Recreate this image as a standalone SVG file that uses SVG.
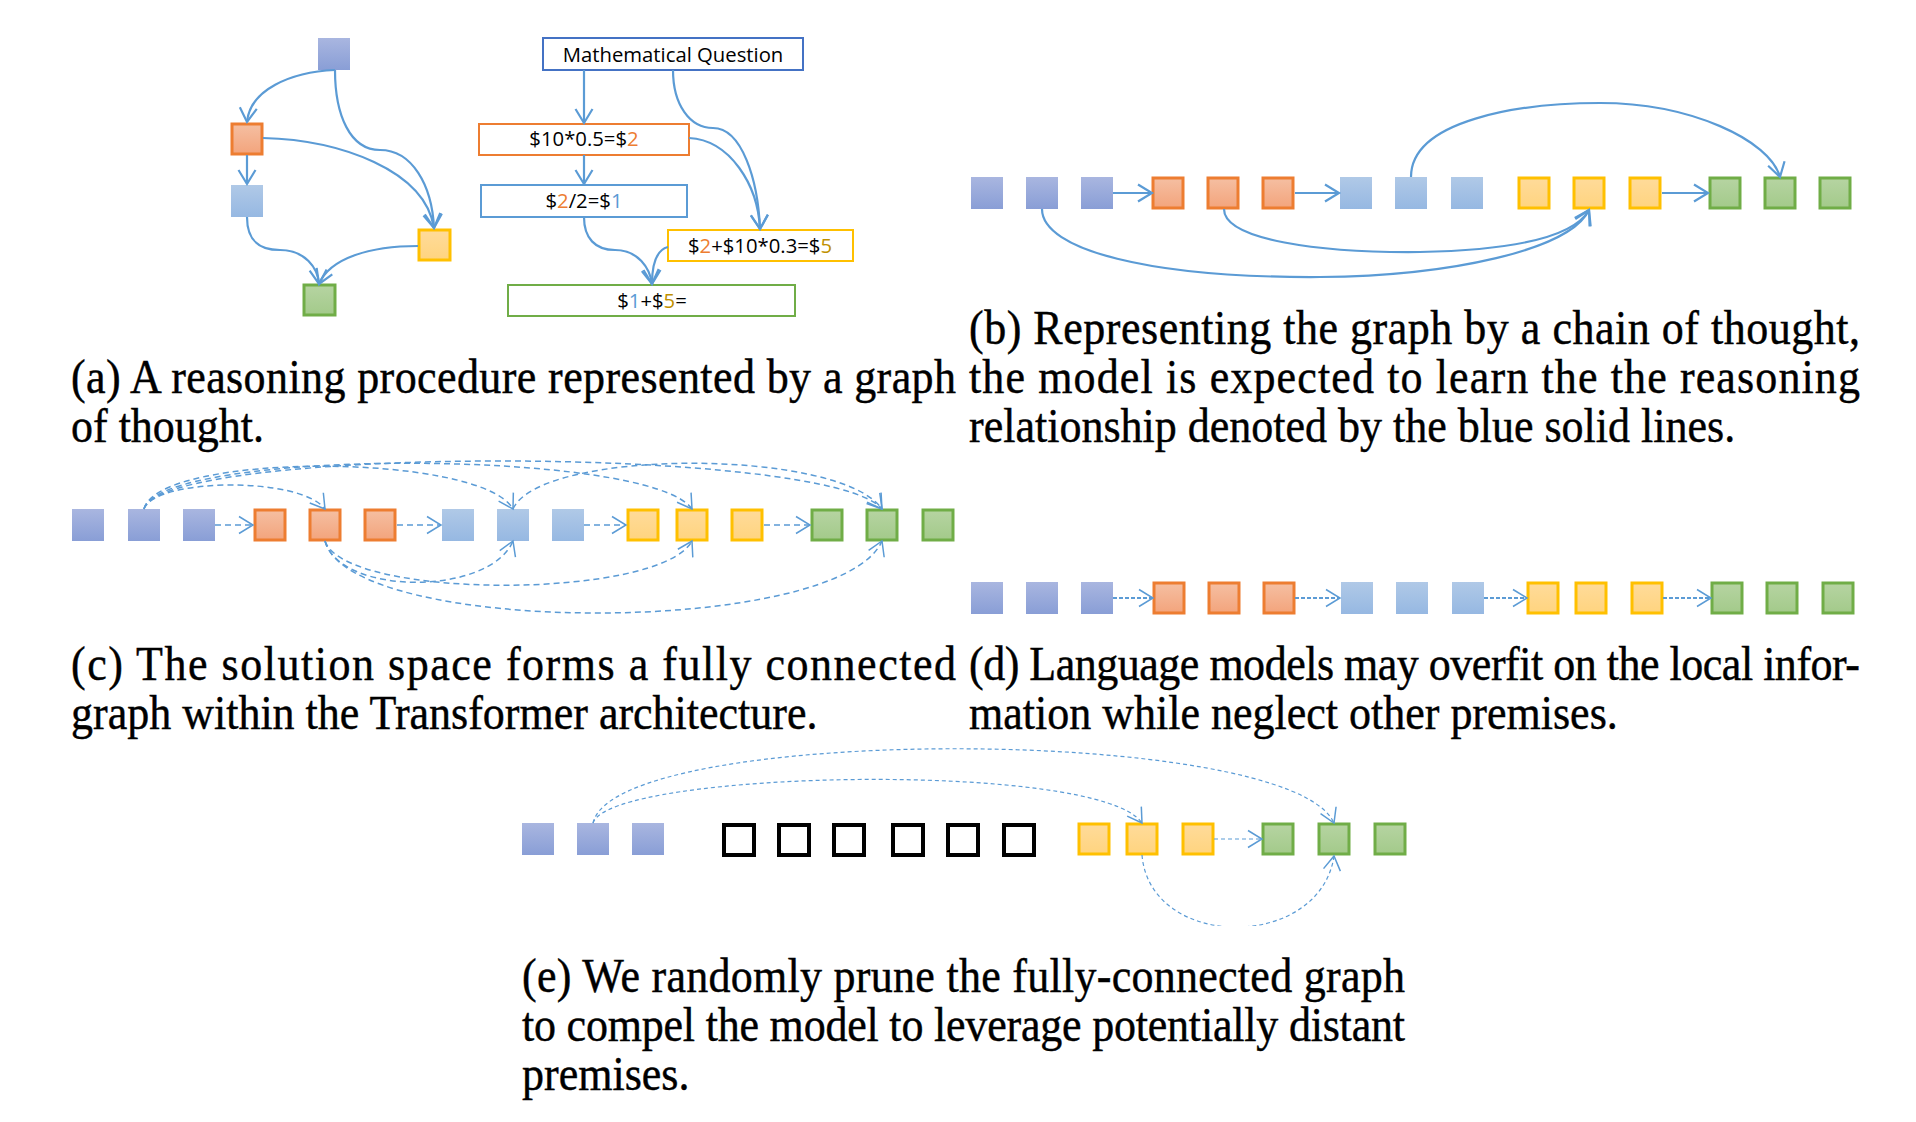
<svg xmlns="http://www.w3.org/2000/svg" width="1916" height="1122" viewBox="0 0 1916 1122">
<style>
.sb{fill:url(#gB)}
.so{fill:url(#gO);stroke:#ED7D31;stroke-width:3}
.sl{fill:url(#gL)}
.sy{fill:url(#gY);stroke:#FFC000;stroke-width:3}
.sg{fill:url(#gG);stroke:#70AD47;stroke-width:3}
.sk{fill:#fff;stroke:#000;stroke-width:4}
.box{fill:#fff;stroke-width:2}
.bt{font-family:"Open Sans","Liberation Sans",sans-serif;font-size:20.3px;fill:#000;text-anchor:middle}
.cap{font-family:"Liberation Serif","Times New Roman",serif;font-size:44px;fill:#000;stroke:#000;stroke-width:0.4}
.solid{fill:none;stroke:#5B9BD5;stroke-width:2.2;marker-end:url(#ah)}
.dc{fill:none;stroke:#5B9BD5;stroke-width:1.5;stroke-dasharray:6 4;marker-end:url(#ahT)}
.dd{fill:none;stroke:#5B9BD5;stroke-width:2;stroke-dasharray:4 2;marker-end:url(#ahT)}
.de{fill:none;stroke:#5B9BD5;stroke-width:1.2;stroke-dasharray:4 3;marker-end:url(#ahT)}
.co{fill:#ED7D31}.cb{fill:#5B9BD5}.cy{fill:#BF9000}
</style>
<defs>
<linearGradient id="gB" x1="0" y1="0" x2="0" y2="1"><stop offset="0" stop-color="#A9B6E0"/><stop offset="1" stop-color="#899ED6"/></linearGradient>
<linearGradient id="gO" x1="0" y1="0" x2="0" y2="1"><stop offset="0" stop-color="#F5BFA2"/><stop offset="1" stop-color="#F3A47C"/></linearGradient>
<linearGradient id="gL" x1="0" y1="0" x2="0" y2="1"><stop offset="0" stop-color="#B0C9E7"/><stop offset="1" stop-color="#96B8E2"/></linearGradient>
<linearGradient id="gY" x1="0" y1="0" x2="0" y2="1"><stop offset="0" stop-color="#FFDB9A"/><stop offset="1" stop-color="#FFD47F"/></linearGradient>
<linearGradient id="gG" x1="0" y1="0" x2="0" y2="1"><stop offset="0" stop-color="#B6D4A2"/><stop offset="1" stop-color="#A3CA8A"/></linearGradient>
<marker id="ah" markerUnits="userSpaceOnUse" markerWidth="20" markerHeight="20" viewBox="-16 -10 18 20" refX="0" refY="0" orient="auto" overflow="visible"><path d="M-14,-8.5 L0,0 L-14,8.5" fill="none" stroke="#5B9BD5" stroke-width="2.2"/></marker>
<marker id="ahT" markerUnits="userSpaceOnUse" markerWidth="20" markerHeight="20" viewBox="-16 -10 18 20" refX="0" refY="0" orient="auto" overflow="visible"><path d="M-14,-8.5 L0,0 L-14,8.5" fill="none" stroke="#5B9BD5" stroke-width="1.5"/></marker>
<clipPath id="clipE"><rect x="0" y="0" width="1916" height="926"/></clipPath>
</defs>
<rect width="1916" height="1122" fill="#fff"/>

<!-- Panel (a) left graph -->
<g id="a-top"><rect class="sb" x="318" y="38" width="32" height="32"/></g>
<g id="a-orange"><rect class="so" x="232" y="124" width="30" height="30"/></g>
<g id="a-lblue"><rect class="sl" x="231" y="185" width="32" height="32"/></g>
<g id="a-yellow"><rect class="sy" x="419" y="230" width="31" height="30"/></g>
<g id="a-green"><rect class="sg" x="304" y="285" width="31" height="30"/></g>

<!-- Panel (a) right boxes -->
<g id="a-question"><rect class="box" x="543" y="38" width="260" height="32" stroke="#4472C4"/><text class="bt" x="673" y="62">Mathematical Question</text></g>
<g id="a-step1"><rect class="box" x="479" y="124" width="210" height="31" stroke="#ED7D31"/><text class="bt" x="584" y="146">$10*0.5=$<tspan class="co">2</tspan></text></g>
<g id="a-step2"><rect class="box" x="481" y="185" width="206" height="32" stroke="#5B9BD5"/><text class="bt" x="584" y="208">$<tspan class="co">2</tspan>/2=$<tspan class="cb">1</tspan></text></g>
<g id="a-step3"><rect class="box" x="668" y="230" width="185" height="31" stroke="#FFC000"/><text class="bt" x="760" y="253">$<tspan class="co">2</tspan>+$10*0.3=$<tspan class="cy">5</tspan></text></g>
<g id="a-answer"><rect class="box" x="508" y="285" width="287" height="31" stroke="#70AD47"/><text class="bt" x="652" y="308">$<tspan class="cb">1</tspan>+$<tspan class="cy">5</tspan>=</text></g>

<!-- Panel (b) -->
<g id="b-n1"><rect class="sb" x="971" y="177" width="32" height="32"/></g>
<g id="b-n2"><rect class="sb" x="1026" y="177" width="32" height="32"/></g>
<g id="b-n3"><rect class="sb" x="1081" y="177" width="32" height="32"/></g>
<g id="b-n4"><rect class="so" x="1153" y="178" width="30" height="30"/></g>
<g id="b-n5"><rect class="so" x="1208" y="178" width="30" height="30"/></g>
<g id="b-n6"><rect class="so" x="1263" y="178" width="30" height="30"/></g>
<g id="b-n7"><rect class="sl" x="1340" y="177" width="32" height="32"/></g>
<g id="b-n8"><rect class="sl" x="1395" y="177" width="32" height="32"/></g>
<g id="b-n9"><rect class="sl" x="1451" y="177" width="32" height="32"/></g>
<g id="b-n10"><rect class="sy" x="1519" y="178" width="30" height="30"/></g>
<g id="b-n11"><rect class="sy" x="1574" y="178" width="30" height="30"/></g>
<g id="b-n12"><rect class="sy" x="1630" y="178" width="30" height="30"/></g>
<g id="b-n13"><rect class="sg" x="1710" y="178" width="30" height="30"/></g>
<g id="b-n14"><rect class="sg" x="1765" y="178" width="30" height="30"/></g>
<g id="b-n15"><rect class="sg" x="1820" y="178" width="30" height="30"/></g>

<!-- Panel (c) -->
<g id="c-n1"><rect class="sb" x="72" y="509" width="32" height="32"/></g>
<g id="c-n2"><rect class="sb" x="128" y="509" width="32" height="32"/></g>
<g id="c-n3"><rect class="sb" x="183" y="509" width="32" height="32"/></g>
<g id="c-n4"><rect class="so" x="255" y="510" width="30" height="30"/></g>
<g id="c-n5"><rect class="so" x="310" y="510" width="30" height="30"/></g>
<g id="c-n6"><rect class="so" x="365" y="510" width="30" height="30"/></g>
<g id="c-n7"><rect class="sl" x="442" y="509" width="32" height="32"/></g>
<g id="c-n8"><rect class="sl" x="497" y="509" width="32" height="32"/></g>
<g id="c-n9"><rect class="sl" x="552" y="509" width="32" height="32"/></g>
<g id="c-n10"><rect class="sy" x="628" y="510" width="30" height="30"/></g>
<g id="c-n11"><rect class="sy" x="677" y="510" width="30" height="30"/></g>
<g id="c-n12"><rect class="sy" x="732" y="510" width="30" height="30"/></g>
<g id="c-n13"><rect class="sg" x="812" y="510" width="30" height="30"/></g>
<g id="c-n14"><rect class="sg" x="867" y="510" width="30" height="30"/></g>
<g id="c-n15"><rect class="sg" x="923" y="510" width="30" height="30"/></g>

<!-- Panel (d) -->
<g id="d-n1"><rect class="sb" x="971" y="582" width="32" height="32"/></g>
<g id="d-n2"><rect class="sb" x="1026" y="582" width="32" height="32"/></g>
<g id="d-n3"><rect class="sb" x="1081" y="582" width="32" height="32"/></g>
<g id="d-n4"><rect class="so" x="1154" y="583" width="30" height="30"/></g>
<g id="d-n5"><rect class="so" x="1209" y="583" width="30" height="30"/></g>
<g id="d-n6"><rect class="so" x="1264" y="583" width="30" height="30"/></g>
<g id="d-n7"><rect class="sl" x="1341" y="582" width="32" height="32"/></g>
<g id="d-n8"><rect class="sl" x="1396" y="582" width="32" height="32"/></g>
<g id="d-n9"><rect class="sl" x="1452" y="582" width="32" height="32"/></g>
<g id="d-n10"><rect class="sy" x="1528" y="583" width="30" height="30"/></g>
<g id="d-n11"><rect class="sy" x="1576" y="583" width="30" height="30"/></g>
<g id="d-n12"><rect class="sy" x="1632" y="583" width="30" height="30"/></g>
<g id="d-n13"><rect class="sg" x="1712" y="583" width="30" height="30"/></g>
<g id="d-n14"><rect class="sg" x="1767" y="583" width="30" height="30"/></g>
<g id="d-n15"><rect class="sg" x="1823" y="583" width="30" height="30"/></g>

<!-- Panel (e) -->
<g id="e-n1"><rect class="sb" x="522" y="823" width="32" height="32"/></g>
<g id="e-n2"><rect class="sb" x="577" y="823" width="32" height="32"/></g>
<g id="e-n3"><rect class="sb" x="632" y="823" width="32" height="32"/></g>
<g id="e-k1"><rect class="sk" x="724" y="825" width="30" height="30"/></g>
<g id="e-k2"><rect class="sk" x="779" y="825" width="30" height="30"/></g>
<g id="e-k3"><rect class="sk" x="834" y="825" width="30" height="30"/></g>
<g id="e-k4"><rect class="sk" x="893" y="825" width="30" height="30"/></g>
<g id="e-k5"><rect class="sk" x="948" y="825" width="30" height="30"/></g>
<g id="e-k6"><rect class="sk" x="1004" y="825" width="30" height="30"/></g>
<g id="e-n4"><rect class="sy" x="1079" y="824" width="30" height="30"/></g>
<g id="e-n5"><rect class="sy" x="1127" y="824" width="30" height="30"/></g>
<g id="e-n6"><rect class="sy" x="1183" y="824" width="30" height="30"/></g>
<g id="e-n7"><rect class="sg" x="1263" y="824" width="30" height="30"/></g>
<g id="e-n8"><rect class="sg" x="1319" y="824" width="30" height="30"/></g>
<g id="e-n9"><rect class="sg" x="1375" y="824" width="30" height="30"/></g>

<!-- Connectors -->
<g id="connectors">
  <!-- (a) left graph -->
  <path class="solid" d="M335,70 C290,72 250,90 247,122"/>
  <path class="solid" d="M335,70 C335,115 350,150 380,150 C412,150 432,185 434,228"/>
  <path class="solid" d="M263,138 C340,140 425,170 434,228"/>
  <path class="solid" d="M247,155 L247,184"/>
  <path class="solid" d="M247,217 C247,240 258,250 280,250 C305,250 318,268 319,284"/>
  <path class="solid" d="M418,246 C370,246 330,258 319,284"/>
  <!-- (a) right boxes -->
  <path class="solid" d="M584,70 L584,123"/>
  <path class="solid" d="M673,70 C673,105 690,128 713,128 C742,128 758,180 760,229"/>
  <path class="solid" d="M689,138 C730,140 758,185 760,229"/>
  <path class="solid" d="M584,155 L584,184"/>
  <path class="solid" d="M584,217 C584,238 595,250 615,250 C638,250 650,268 652,284"/>
  <path class="solid" d="M668,247 C656,250 652,265 652,284"/>
  <!-- (b) -->
  <path class="solid" d="M1113,193 L1152,193"/>
  <path class="solid" d="M1295,193 L1339,193"/>
  <path class="solid" d="M1662,193 L1708,193"/>
  <path class="solid" d="M1042,209 C1042,250 1150,278 1320,277 C1450,276 1570,250 1589,210"/>
  <path class="solid" d="M1224,209 C1224,240 1320,253 1420,252 C1520,250 1575,235 1589,210"/>
  <path class="solid" d="M1411,177 C1411,120 1520,103 1600,103 C1690,103 1770,140 1780,177"/>
  <!-- (c) -->
  <path class="dc" d="M215,525 L253,525"/>
  <path class="dc" d="M397,525 L441,525"/>
  <path class="dc" d="M584,525 L626,525"/>
  <path class="dc" d="M764,525 L810,525"/>
  <path class="dc" d="M144,509 C155,478 300,476 325,509"/>
  <path class="dc" d="M144,509 C158,452 480,452 513,509"/>
  <path class="dc" d="M144,509 C160,448 650,448 692,509"/>
  <path class="dc" d="M144,509 C162,445 830,445 882,509"/>
  <path class="dc" d="M513,509 C540,448 840,448 882,509"/>
  <path class="dc" d="M325,541 C340,596 490,596 513,541"/>
  <path class="dc" d="M325,541 C345,600 660,600 692,541"/>
  <path class="dc" d="M325,541 C350,637 840,637 882,541"/>
  <!-- (d) -->
  <path class="dd" d="M1113,598 L1153,598"/>
  <path class="dd" d="M1295,598 L1340,598"/>
  <path class="dd" d="M1484,598 L1527,598"/>
  <path class="dd" d="M1663,598 L1711,598"/>
  <!-- (e) -->
  <path class="de" d="M1214,839 L1262,839"/>
  <path class="de" d="M593,823 C610,770 1100,760 1142,823"/>
  <path class="de" d="M593,823 C615,724 1290,724 1334,823"/>
  <path class="de" clip-path="url(#clipE)" d="M1142,855 C1150,951 1320,951 1334,856"/>
</g>

<!-- Captions -->
<g id="captions">
  <text class="cap" transform="matrix(1,0,0,1.1,71,393)" textLength="885" lengthAdjust="spacing">(a) A reasoning procedure represented by a graph</text>
  <text class="cap" transform="matrix(1,0,0,1.1,71,442)">of thought.</text>
  <text class="cap" transform="matrix(1,0,0,1.1,969,344)" textLength="891" lengthAdjust="spacing">(b) Representing the graph by a chain of thought,</text>
  <text class="cap" transform="matrix(1,0,0,1.1,969,393)" textLength="891" lengthAdjust="spacing">the model is expected to learn the the reasoning</text>
  <text class="cap" transform="matrix(1,0,0,1.1,969,442)">relationship denoted by the blue solid lines.</text>
  <text class="cap" transform="matrix(1,0,0,1.1,71,680)" textLength="885" lengthAdjust="spacing">(c) The solution space forms a fully connected</text>
  <text class="cap" transform="matrix(1,0,0,1.1,71,729)">graph within the Transformer architecture.</text>
  <text class="cap" transform="matrix(1,0,0,1.1,969,680)" textLength="891" lengthAdjust="spacing">(d) Language models may overfit on the local infor-</text>
  <text class="cap" transform="matrix(1,0,0,1.1,969,729)">mation while neglect other premises.</text>
  <text class="cap" transform="matrix(1,0,0,1.1,522,992)" textLength="883" lengthAdjust="spacing">(e) We randomly prune the fully-connected graph</text>
  <text class="cap" transform="matrix(1,0,0,1.1,522,1041)" textLength="883" lengthAdjust="spacing">to compel the model to leverage potentially distant</text>
  <text class="cap" transform="matrix(1,0,0,1.1,522,1090)">premises.</text>
</g>
</svg>
